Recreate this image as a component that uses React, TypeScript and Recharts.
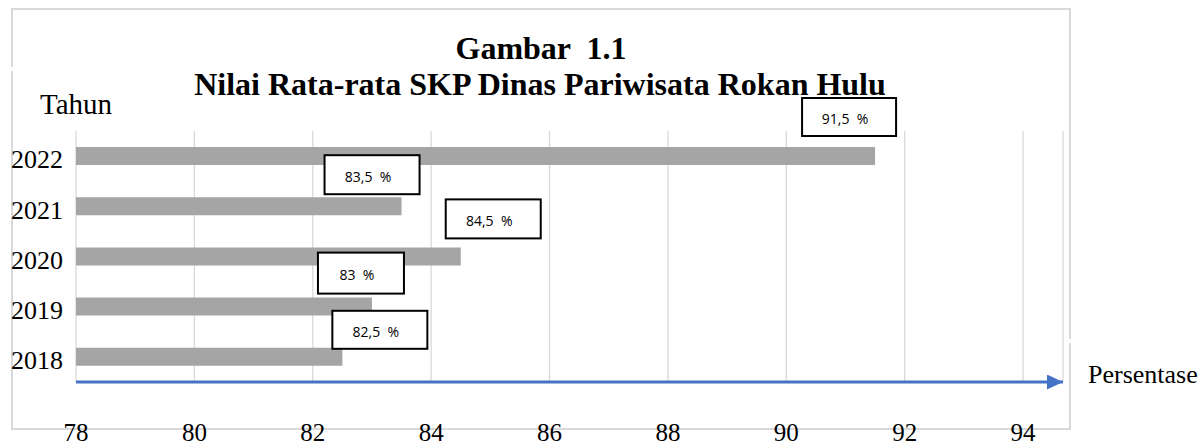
import React from 'react';
import { BarChart, Bar, XAxis, YAxis, CartesianGrid, LabelList, Customized } from 'recharts';

const years = ['2022', '2021', '2020', '2019', '2018'];
const scores = [91.5, 83.5, 84.5, 83, 82.5];
const scoreLabels = ['91,5  %', '83,5  %', '84,5  %', '83  %', '82,5  %'];
const xTicks = [78, 80, 82, 84, 86, 88, 90, 92, 94];
// the blue axis arrow runs a bit past the last tick
const xDomain = [78, 94.675];

// the value boxes were placed by hand in the original, so keep their offsets here
// (relative to bar end and bar top)
const labelBoxes = [
  { dx: -73, dy: -49, w: 94, h: 38 },
  { dx: -77, dy: -42, w: 95, h: 39 },
  { dx: -15, dy: -48, w: 95, h: 39 },
  { dx: -54, dy: -45, w: 86, h: 41 },
  { dx: -10, dy: -37, w: 95, h: 38 },
];

const data = years.map((year, i) => ({ year, score: scores[i], label: scoreLabels[i] }));

const serif = '"Liberation Serif", "Times New Roman", serif';
const gridGrey = '#d9d9d9';
const barGrey = '#a5a5a5';
const axisBlue = '#4472C4';

function ValueBox(props: any) {
  const vb = props.viewBox || {};
  const x = props.x ?? vb.x;
  const y = props.y ?? vb.y;
  const width = props.width ?? vb.width;
  const i = scoreLabels.indexOf(props.value);
  if (i < 0) return null;
  const b = labelBoxes[i];
  const left = x + width + b.dx;
  const top = y + b.dy;
  return (
    <g>
      <rect x={left} y={top} width={b.w} height={b.h} fill="#fff" stroke="#000" strokeWidth={2} />
      <text
        x={left + b.w / 2 - 4}
        y={top + b.h / 2 + 7}
        textAnchor="middle"
        fontFamily='"Open Sans", sans-serif'
        fontSize={14}
        fill="#000"
        style={{ whiteSpace: 'pre' }}
      >
        {props.value}
      </text>
    </g>
  );
}

function YearTick(props: any) {
  const { x, y, payload } = props;
  return (
    <text x={x} y={y + 3} dy="0.355em" textAnchor="end" fontFamily={serif} fontSize={26} fill="#000">
      {payload.value}
    </text>
  );
}

function PctTick(props: any) {
  const { x, y, payload } = props;
  return (
    <text x={x} y={y} dy="0.71em" textAnchor="middle" fontFamily={serif} fontSize={25} fill="#000">
      {payload.value}
    </text>
  );
}

function ChartTexts() {
  return (
    <g fontFamily={serif} fill="#000">
      <defs>
        <marker
          id="pctArrow"
          viewBox="0 0 16 15"
          refX={16}
          refY={7.5}
          markerWidth={16}
          markerHeight={15}
          markerUnits="userSpaceOnUse"
          orient="auto"
        >
          <path d="M0,0 L16,7.5 L0,15 Z" fill={axisBlue} />
        </marker>
      </defs>
      <text x={541} y={59} textAnchor="middle" fontSize={32} fontWeight="bold" style={{ whiteSpace: 'pre' }}>
        Gambar  1.1
      </text>
      <text x={540} y={95} textAnchor="middle" fontSize={32} fontWeight="bold">
        Nilai Rata-rata SKP Dinas Pariwisata Rokan Hulu
      </text>
      <text x={40} y={114} fontSize={29}>
        Tahun
      </text>
      <text x={1088} y={383} fontSize={26}>
        Persentase
      </text>
    </g>
  );
}

export default function App() {
  return (
    <div style={{ position: 'absolute', left: 0, top: 0, width: 1203, height: 448, background: '#fff' }}>
      {/* frame around the figure */}
      <div
        style={{
          position: 'absolute',
          left: 11,
          top: 8,
          width: 1060,
          height: 422,
          border: `2px solid ${gridGrey}`,
          boxSizing: 'border-box',
        }}
      />
      <div style={{ position: 'absolute', left: 10, top: 67, width: 5, height: 4, background: '#fff' }} />
      <div style={{ position: 'absolute', left: 1068, top: 339, width: 4, height: 4, background: '#fff' }} />

      <div style={{ position: 'absolute', left: 0, top: 0 }}>
        <BarChart
          width={1203}
          height={448}
          data={data}
          layout="vertical"
          margin={{ top: 131, right: 140, bottom: 6, left: 12 }}
        >
          <CartesianGrid horizontal={false} stroke={gridGrey} strokeWidth={1.3} />
          <XAxis
            type="number"
            domain={xDomain}
            allowDataOverflow
            ticks={xTicks}
            axisLine={{ stroke: axisBlue, strokeWidth: 3, markerEnd: 'url(#pctArrow)' }}
            tickLine={false}
            tickMargin={35}
            height={60}
            tick={<PctTick />}
            interval={0}
          />
          <YAxis
            type="category"
            dataKey="year"
            width={64}
            axisLine={false}
            tickLine={false}
            tickMargin={7}
            tick={<YearTick />}
            interval={0}
          />
          <Bar dataKey="score" fill={barGrey} barSize={18} isAnimationActive={false}>
            <LabelList dataKey="label" content={<ValueBox />} />
          </Bar>
          <Customized component={ChartTexts} />
        </BarChart>
      </div>
    </div>
  );
}
